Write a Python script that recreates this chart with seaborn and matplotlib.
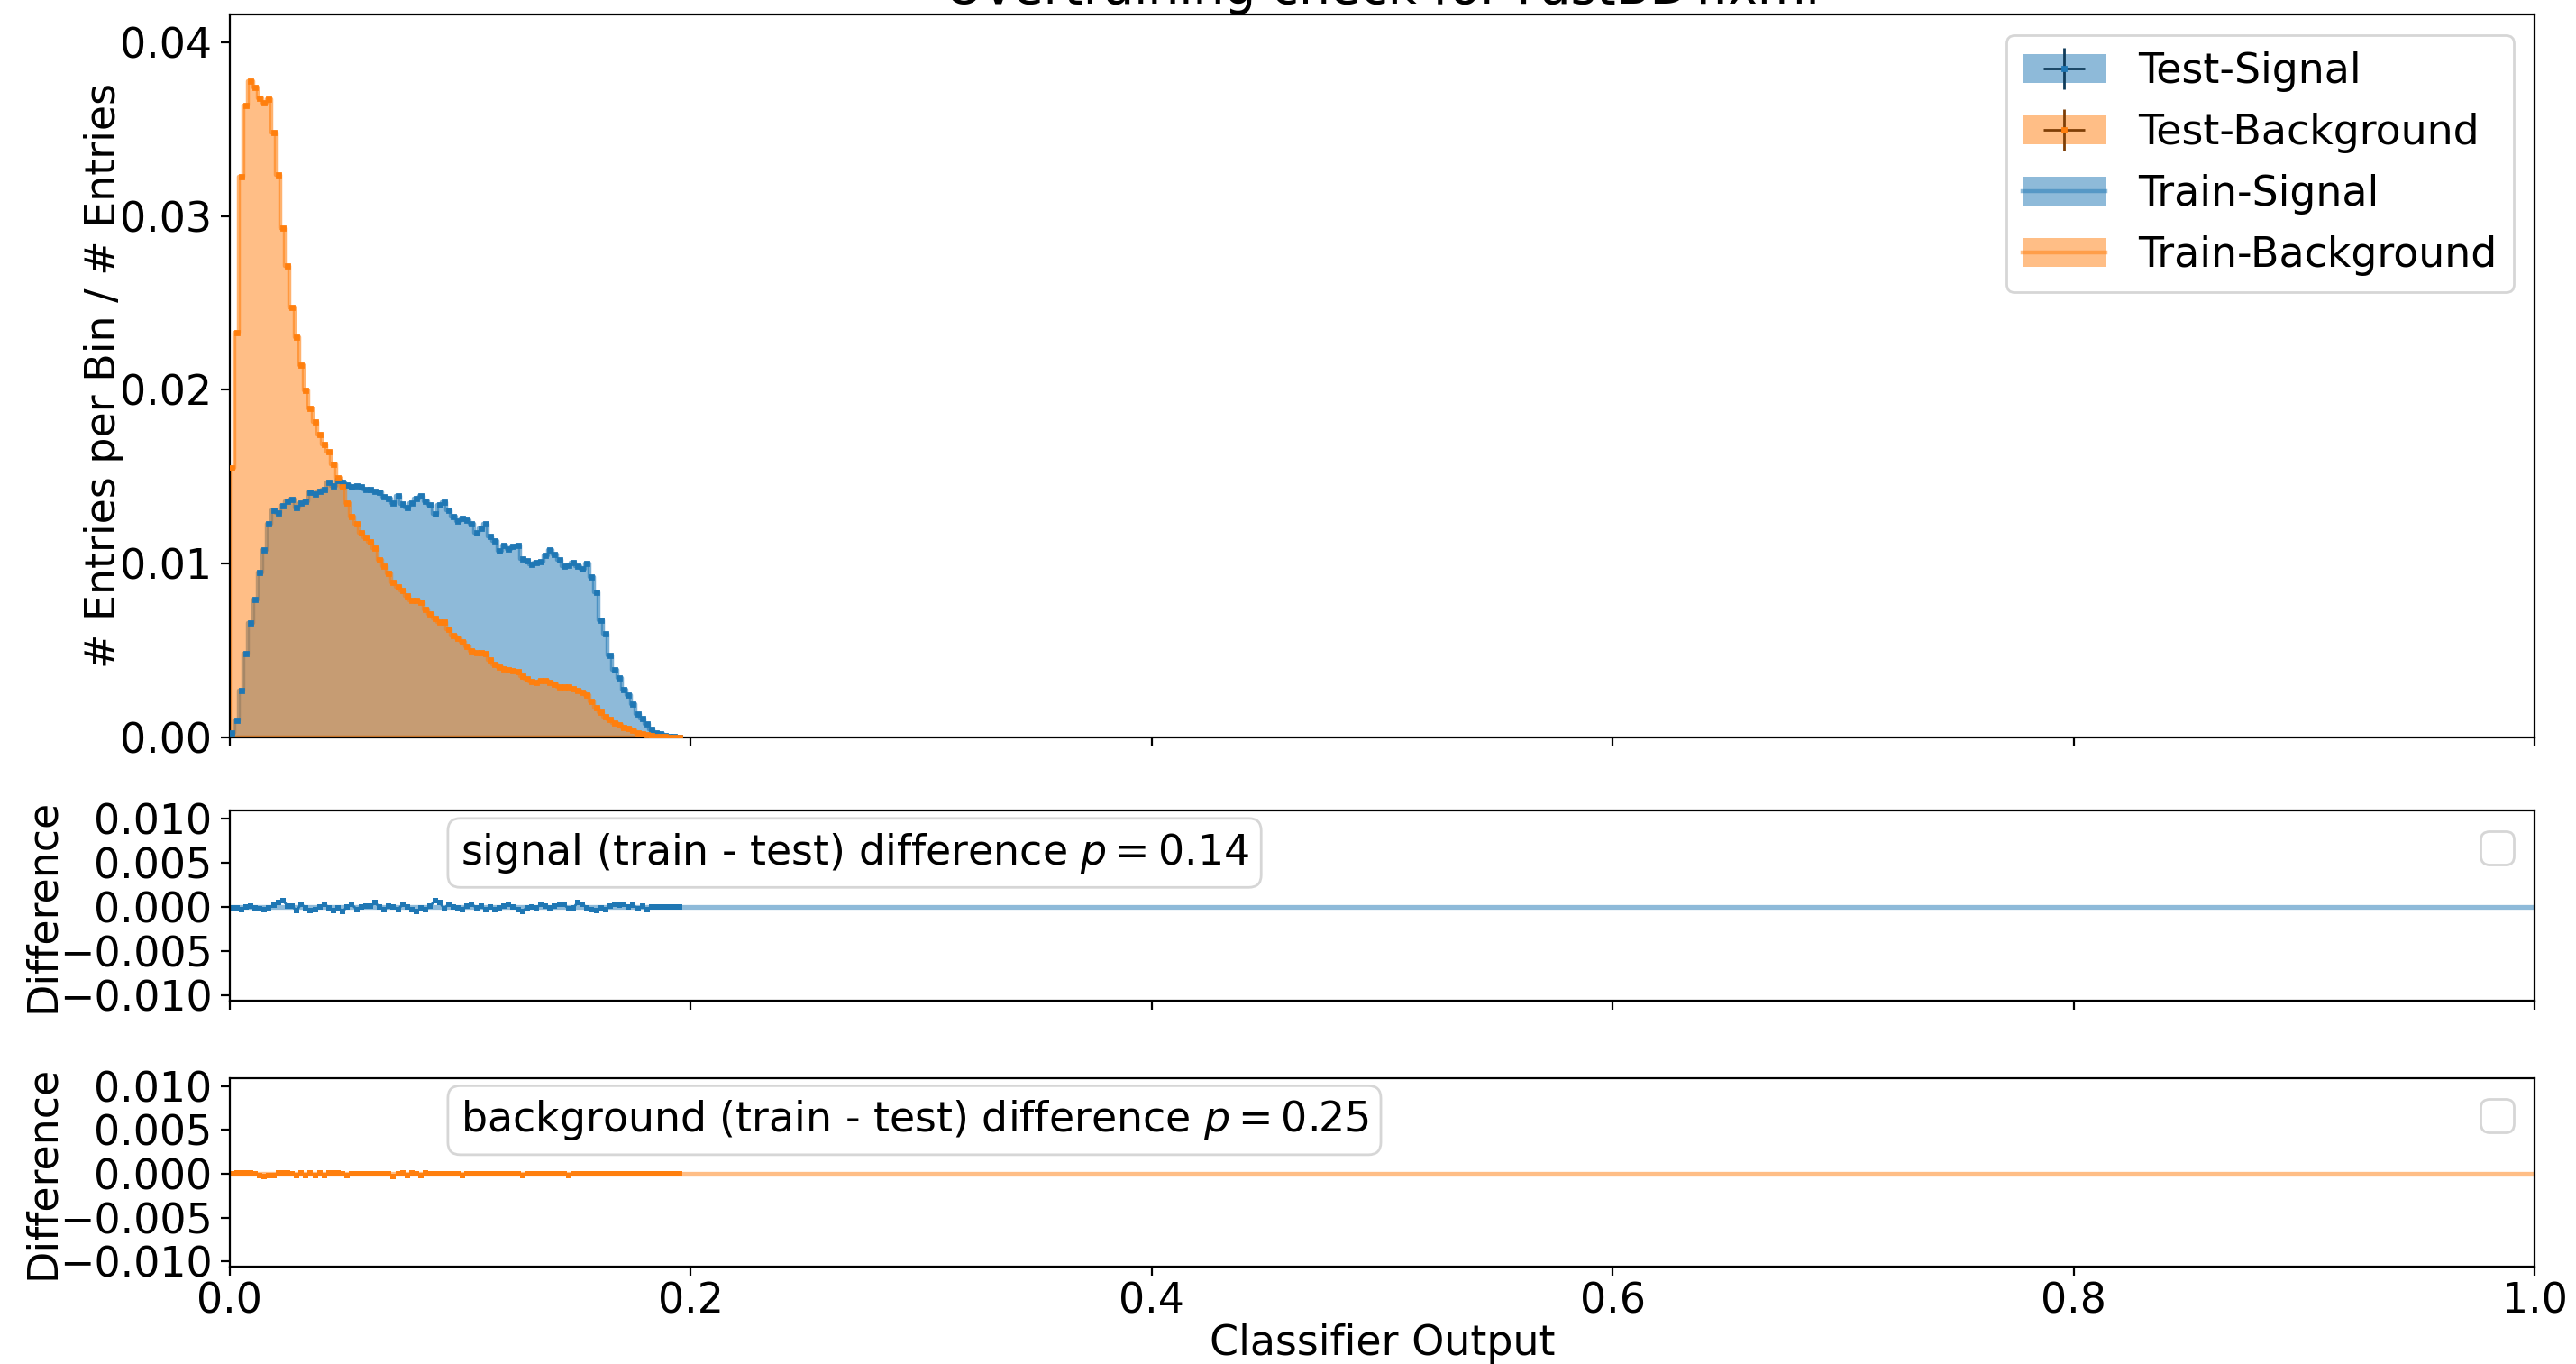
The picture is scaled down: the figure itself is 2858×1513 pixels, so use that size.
import numpy as np
import matplotlib
matplotlib.use("Agg")
import matplotlib.pyplot as plt
import seaborn as sns
from matplotlib.patches import Patch
from matplotlib.lines import Line2D
from matplotlib.colors import to_rgba

# ---------------- data ----------------
bin_width = 0.002
n_bins = 98

signal_train = [
    0.00024, 0.00100, 0.00267, 0.00483, 0.00656, 0.00795, 0.00951, 0.01080, 0.01231, 0.01306,
    0.01292, 0.01332, 0.01358, 0.01371, 0.01323, 0.01349, 0.01358, 0.01410, 0.01401, 0.01418,
    0.01427, 0.01470, 0.01448, 0.01479, 0.01470, 0.01453, 0.01444, 0.01448, 0.01441, 0.01427,
    0.01427, 0.01418, 0.01410, 0.01384, 0.01375, 0.01349, 0.01389, 0.01344, 0.01323, 0.01349,
    0.01375, 0.01389, 0.01358, 0.01340, 0.01288, 0.01340, 0.01355, 0.01309, 0.01271, 0.01245,
    0.01262, 0.01251, 0.01228, 0.01176, 0.01205, 0.01228, 0.01158, 0.01132, 0.01072, 0.01106,
    0.01084, 0.01098, 0.01106, 0.01029, 0.01015, 0.00994, 0.01008, 0.01011, 0.01047, 0.01080,
    0.01055, 0.01020, 0.00985, 0.00990, 0.01005, 0.00985, 0.00968, 0.01003, 0.00925, 0.00835,
    0.00674, 0.00596, 0.00474, 0.00388, 0.00344, 0.00275, 0.00241, 0.00189, 0.00137, 0.00111,
    0.00076, 0.00045, 0.00028, 0.00021, 0.00010, 0.00005, 0.00003, 0.00001,
]

background_train = [
    0.01553, 0.02330, 0.03228, 0.03638, 0.03778, 0.03739, 0.03678, 0.03650, 0.03670, 0.03480,
    0.03236, 0.02933, 0.02712, 0.02474, 0.02301, 0.02140, 0.01998, 0.01891, 0.01817, 0.01742,
    0.01687, 0.01643, 0.01574, 0.01496, 0.01441, 0.01349, 0.01268, 0.01228, 0.01176, 0.01150,
    0.01124, 0.01090, 0.01020, 0.00986, 0.00942, 0.00890, 0.00868, 0.00847, 0.00812, 0.00790,
    0.00790, 0.00778, 0.00734, 0.00708, 0.00682, 0.00665, 0.00662, 0.00621, 0.00587, 0.00570,
    0.00552, 0.00526, 0.00500, 0.00488, 0.00488, 0.00482, 0.00448, 0.00419, 0.00405, 0.00396,
    0.00388, 0.00384, 0.00379, 0.00353, 0.00336, 0.00322, 0.00318, 0.00327, 0.00327, 0.00318,
    0.00305, 0.00292, 0.00288, 0.00288, 0.00280, 0.00267, 0.00258, 0.00241, 0.00206, 0.00171,
    0.00145, 0.00119, 0.00102, 0.00085, 0.00073, 0.00059, 0.00050, 0.00042, 0.00028, 0.00021,
    0.00014, 0.00010, 0.00006, 0.00004, 0.00003, 0.00002, 0.00001, 0.00000,
]

# test histograms are indistinguishable from the training ones in the picture
signal_test = list(signal_train)
background_test = list(background_train)

signal_diff = [
    -0.00014, -0.00007, -0.00027, 0.00000, 0.00014, -0.00007, -0.00020, -0.00034, -0.00007, 0.00020,
    0.00054, 0.00074, 0.00014, 0.00007, -0.00041, 0.00034, -0.00014, -0.00041, -0.00027, 0.00000,
    0.00034, -0.00007, -0.00041, -0.00014, -0.00047, 0.00000, 0.00027, -0.00027, 0.00000, 0.00014,
    0.00007, 0.00047, 0.00000, -0.00027, 0.00007, 0.00000, -0.00027, 0.00027, 0.00000, -0.00034,
    -0.00054, -0.00014, -0.00027, 0.00007, 0.00074, 0.00054, -0.00020, 0.00034, 0.00000, -0.00007,
    -0.00027, 0.00014, 0.00027, -0.00007, 0.00007, -0.00027, 0.00000, -0.00027, -0.00007, 0.00014,
    0.00027, 0.00000, -0.00027, -0.00047, -0.00007, 0.00000, -0.00014, 0.00034, 0.00007, -0.00014,
    0.00014, 0.00034, 0.00027, -0.00020, -0.00014, 0.00054, 0.00034, -0.00014, -0.00027, -0.00041,
    -0.00007, -0.00027, 0.00014, 0.00034, 0.00020, 0.00034, 0.00000, 0.00020, -0.00020, 0.00007,
    -0.00027, 0.00000, 0.00000, 0.00000, 0.00000, 0.00000, 0.00000, 0.00000,
]

background_diff = [
    -0.00003, 0.00010, 0.00010, 0.00010, 0.00010, 0.00003, -0.00024, -0.00030, -0.00024, -0.00017,
    0.00010, 0.00010, 0.00010, 0.00003, -0.00024, 0.00010, -0.00024, 0.00010, -0.00024, 0.00010,
    -0.00024, 0.00010, 0.00010, 0.00010, 0.00003, -0.00024, 0.00003, 0.00003, 0.00003, 0.00003,
    0.00003, 0.00003, 0.00003, 0.00003, 0.00003, -0.00030, 0.00003, 0.00010, -0.00017, 0.00010,
    0.00003, -0.00024, 0.00010, 0.00003, 0.00003, 0.00003, 0.00003, 0.00003, 0.00003, 0.00003,
    -0.00024, 0.00003, 0.00003, 0.00003, 0.00003, 0.00003, 0.00003, 0.00003, 0.00003, 0.00003,
    0.00003, 0.00003, 0.00003, -0.00024, 0.00003, 0.00003, 0.00003, 0.00003, 0.00003, 0.00003,
    0.00003, 0.00003, 0.00003, -0.00024, 0.00003, 0.00003, 0.00003, 0.00003, 0.00003, 0.00003,
    0.00003, 0.00003, 0.00003, 0.00003, 0.00003, 0.00003, 0.00003, 0.00003, 0.00003, 0.00003,
    0.00003, 0.00003, 0.00003, 0.00003, 0.00003, 0.00003, 0.00003, 0.00003,
]

p_signal = 0.14
p_background = 0.25

legend_labels = ["Test-Signal", "Test-Background", "Train-Signal", "Train-Background"]
title = "Overtraining check for FastBDT.xml"
x_ticks = [0.0, 0.2, 0.4, 0.6, 0.8, 1.0]
main_yticks = [0.00, 0.01, 0.02, 0.03, 0.04]
diff_yticks = [-0.010, -0.005, 0.000, 0.005, 0.010]

# ---------------- plotting ----------------
plt.rcParams["font.family"] = ["DejaVu Sans"]
plt.rcParams["font.size"] = 16.5

edges = np.arange(n_bins + 1) * bin_width
centers = edges[:-1] + bin_width / 2

C_SIG = "#1f77b4"
C_BKG = "#ff7f0e"
DARK_SIG = "#103c5b"
DARK_BKG = "#7f3f07"

fig = plt.figure(figsize=(14.29, 7.565), dpi=200)
left, right = 0.0892, 0.9839
w = right - left
ax0 = fig.add_axes([left, 0.4594, w, 0.98943 - 0.4594])
ax1 = fig.add_axes([left, 0.2664, w, 0.4058 - 0.2664])
ax2 = fig.add_axes([left, 0.0714, w, 0.2095 - 0.0714])

# training histograms (filled steps)
for vals, col in [(signal_train, C_SIG), (background_train, C_BKG)]:
    sns.histplot(x=centers, weights=np.asarray(vals), bins=edges.tolist(), element="step",
                 fill=True, alpha=0.5, color=col, edgecolor=to_rgba(col, 0.6),
                 linewidth=1.6, ax=ax0)

# test histograms (error bars)
eb_sig = ax0.errorbar(centers, signal_test, xerr=0.0004, yerr=0.0001, fmt="s", ms=1.2,
                      color=C_SIG, ecolor=DARK_SIG, elinewidth=1.0, zorder=3)
eb_bkg = ax0.errorbar(centers, background_test, xerr=0.0004, yerr=0.0001, fmt="s", ms=1.2,
                      color=C_BKG, ecolor=DARK_BKG, elinewidth=1.0, zorder=3)

handles = [
    (Patch(facecolor=C_SIG, alpha=0.5, edgecolor="none"), eb_sig),
    (Patch(facecolor=C_BKG, alpha=0.5, edgecolor="none"), eb_bkg),
    (Patch(facecolor=C_SIG, alpha=0.5, edgecolor="none"),
     Line2D([], [], color=C_SIG, alpha=0.5, lw=1.6)),
    (Patch(facecolor=C_BKG, alpha=0.5, edgecolor="none"),
     Line2D([], [], color=C_BKG, alpha=0.5, lw=1.6)),
]
ax0.legend(handles, legend_labels, loc="upper right")

ax0.set_xlim(0, 1)
ax0.set_ylim(0, 0.0416)
ax0.set_xticks(x_ticks)
ax0.set_yticks(main_yticks)
ax0.tick_params(labelbottom=False)
ax0.set_xlabel("")
ax0.set_ylabel("# Entries per Bin / # Entries", labelpad=-1.5)
ax0.set_title(title, fontsize=19.8, pad=2.5)

# difference panels
for ax, diff, col, name, p in [(ax1, signal_diff, C_SIG, "signal", p_signal),
                               (ax2, background_diff, C_BKG, "background", p_background)]:
    ax.axhline(0, color=col, alpha=0.5, lw=1.9, zorder=1)
    sns.lineplot(x=centers, y=np.asarray(diff), ax=ax, color=col, marker="s", markersize=2.0,
                 markeredgewidth=0, linewidth=1.0, zorder=2)
    ax.set_xlim(0, 1)
    ax.set_ylim(-0.0106, 0.0109)
    ax.set_xticks(x_ticks)
    ax.set_yticks(diff_yticks)
    ax.set_ylabel("Difference", labelpad=-1.5)
    ax.text(0.1, 0.777, f"{name} (train - test) difference $p={p}$",
            transform=ax.transAxes, va="center", ha="left",
            bbox=dict(boxstyle="round,pad=0.3", facecolor="white", edgecolor="#d6d6d6"))
    ax.legend(handles=[], labels=[], loc="upper right")

ax1.tick_params(labelbottom=False)
ax1.set_xlabel("")
ax2.tick_params(axis="x", pad=2.5)
ax2.set_xlabel("Classifier Output", labelpad=0.5)

fig.savefig("out.png", dpi=200)
